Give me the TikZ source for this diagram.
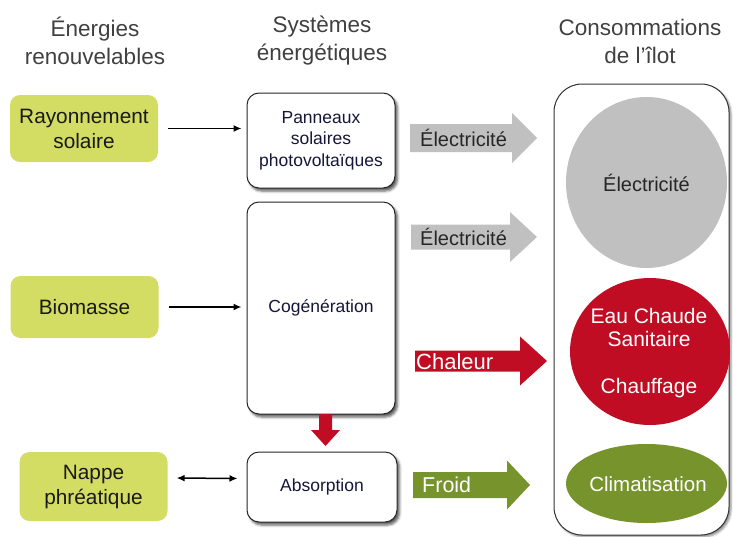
\documentclass[tikz,border=0pt]{standalone}
\usepackage{fontspec}
\setmainfont{Liberation Sans}
\usetikzlibrary{shadows.blur,arrows.meta}

\definecolor{srcgreen}{RGB}{211,221,99}
\definecolor{elecgray}{RGB}{192,192,192}
\definecolor{heatred}{RGB}{192,13,35}
\definecolor{coldgreen}{RGB}{119,147,43}
\definecolor{systext}{RGB}{22,22,58}
\definecolor{hdrtext}{RGB}{64,64,64}

% filled block arrow: colour, shaft start x, head start x, tip x, centre y, half shaft, half head
\newcommand\blockarrow[7]{%
  \fill[#1] (#2,#5-#6) -- (#3,#5-#6) -- (#3,#5-#7) -- (#4,#5)
            -- (#3,#5+#7) -- (#3,#5+#6) -- (#2,#5+#6) -- cycle;}

\begin{document}
\begin{tikzpicture}[x=1pt,y=-1pt,
  hdr/.style={align=center, text=hdrtext, font=\fontsize{22.5}{28}\selectfont},
  srcbox/.style={fill=srcgreen, rounded corners=10pt, minimum width=148pt,
    align=center, inner sep=0pt, text=black!90, font=\fontsize{20.8}{25}\selectfont},
  sysbox/.style={draw=black!85, line width=1pt, fill=white, rounded corners=12pt,
    minimum width=148pt, align=center, inner sep=0pt, text=systext,
    font=\fontsize{17.5}{21.5}\selectfont,
    blur shadow={shadow xshift=2.5pt, shadow yshift=-3pt, shadow blur radius=2.5pt, shadow opacity=65}},
  flowlabel/.style={anchor=west, inner sep=0pt, font=\fontsize{20}{24}\selectfont},
  uselabel/.style={align=center, inner sep=0pt, font=\fontsize{21}{23.5}\selectfont},
  feed/.style={line width=1.5pt, -{Latex[length=8pt,width=7pt]}},
  swap/.style={line width=1.5pt, {Latex[length=8pt,width=7pt]}-{Latex[length=8pt,width=7pt]}}
]
\useasboundingbox (0,0) rectangle (733,536);

% column headings
\node[hdr] (h1) at (95,41) {Énergies\\renouvelables};
\node[hdr] (h2) at (322,41) {Systèmes\\énergétiques};
\node[hdr] (h3) at (640,41) {Consommations\\de l’îlot};

% renewable sources
\node[srcbox, minimum height=67pt] (ray) at (84,128.5) {Rayonnement\\solaire};
\node[srcbox, minimum height=62pt] (bio) at (84.5,307) {Biomasse};
\node[srcbox, minimum height=69pt] (nap) at (93.5,486.5) {Nappe\\phréatique};

% energy systems
\node[sysbox, minimum height=95pt] (pv) at (321,140.5) {Panneaux\\solaires\\photovoltaïques};
\node[sysbox, minimum height=212pt] (cog) at (321,308) {Cogénération};
\node[sysbox, minimum width=150pt, minimum height=70pt] (abs) at (322,487) {Absorption};

% consumption frame
\node[draw=black!80, line width=1pt, fill=white, rounded corners=28pt,
  minimum width=175pt, minimum height=451pt, inner sep=0pt,
  blur shadow={shadow xshift=2pt, shadow yshift=-2pt, shadow blur radius=2pt, shadow opacity=45}]
  (conso) at (641.5,309.5) {};

% source -> system connectors
\draw[feed, shorten <=10pt, shorten >=5pt] (ray.east) -- (pv.west |- ray.east);
\draw[feed, shorten <=10pt, shorten >=5pt] (bio.east) -- (cog.west |- bio.east);
\draw[swap, shorten <=9pt, shorten >=9pt] ([yshift=8.5pt]nap.east) -- ([yshift=8.5pt]abs.west);

% heat from cogeneration to absorption
\fill[heatred] (319,414) -- (332,414) -- (332,430) -- (340,430) -- (325.5,446)
  -- (311,430) -- (319,430) -- cycle;

% energy flows
\blockarrow{elecgray}{410}{512}{537}{138}{14}{25}
\node[flowlabel, text=black!85] (f1) at (420,138) {Électricité};
\blockarrow{elecgray}{411}{510}{537}{237}{12.5}{25}
\node[flowlabel, text=black!85] (f2) at (420,237) {Électricité};
\blockarrow{heatred}{415}{520}{547}{361}{10.5}{24.5}
\node[flowlabel, text=white, font=\fontsize{22}{24}\selectfont] (f3) at (416,362) {Chaleur};
\blockarrow{coldgreen}{413}{507}{530}{485}{13}{24.5}
\node[flowlabel, text=white, font=\fontsize{21.5}{24}\selectfont] (f4) at (422,485) {Froid};

% uses
\fill[elecgray] (646.5,182.5) ellipse [x radius=80.5, y radius=85.5];
\node[uselabel, text=black!85, font=\fontsize{20}{23.5}\selectfont] (u1) at (646.5,183) {Électricité};
\fill[heatred] (650,351.5) ellipse [x radius=80, y radius=73.5];
\node[uselabel, text=white] (u2) at (649,353) {Eau Chaude\\Sanitaire\\[23.5pt]Chauffage};
\fill[coldgreen] (646.5,483.5) ellipse [x radius=80.5, y radius=39.5];
\node[uselabel, text=white, font=\fontsize{20.5}{23.5}\selectfont] (u3) at (648,484) {Climatisation};
\end{tikzpicture}
\end{document}
